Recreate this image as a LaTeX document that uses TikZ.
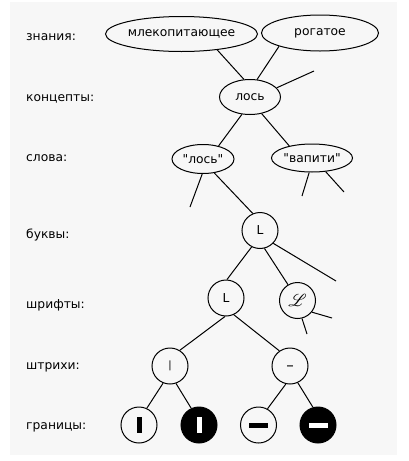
\documentclass[tikz,border=0pt]{standalone}
\usepackage{fontspec}
\setmainfont{DejaVu Sans}[Ligatures=TeXOff]
\usepackage{mathrsfs}
\usetikzlibrary{shapes.geometric}
\definecolor{bgcol}{HTML}{F7F7F7}
\tikzset{
  lvl/.style={anchor=base west, inner sep=0pt, font=\fontsize{12.3}{14}\selectfont},
  ell/.style={draw, ellipse, inner sep=0pt, line width=1pt, font=\fontsize{12.3}{14}\selectfont},
  circ/.style={draw, circle, inner sep=0pt, minimum size=36pt, line width=1pt, font=\fontsize{12.3}{14}\selectfont},
  fcirc/.style={circ, fill=black},
  edge/.style={line width=1pt},
}
\begin{document}
\begin{tikzpicture}[x=1pt,y=-1pt]
\useasboundingbox (0,0) rectangle (409,461);
\fill[bgcol] (10,2) rectangle (397,455);
% level labels
\node[lvl] (l1) at (26,40) {знания:};
\node[lvl] (l2) at (26,101) {концепты:};
\node[lvl] (l3) at (26,161) {слова:};
\node[lvl] (l4) at (26,238) {буквы:};
\node[lvl] (l5) at (26,308) {шрифты:};
\node[lvl] (l6) at (26,369) {штрихи:};
\node[lvl] (l7) at (26,429) {границы:};
% nodes
\node[ell, minimum width=117pt, minimum height=35pt] (mam) at (181.5,34) {млекопитающее};
\node[ell, minimum width=117pt, minimum height=36pt] (horn) at (320,33) {рогатое};
\node[ell, minimum width=61pt, minimum height=35pt] (moose) at (250,97) {лось};
\node[ell, minimum width=62pt, minimum height=29pt] (wmoose) at (203,159) {"лось"};
\node[ell, minimum width=63pt, minimum height=28pt] (wapiti) at (312,158) {"вапити"};
\node[circ] (L) at (260,230.5) {L};
\node[circ] (Lf) at (226,298) {L};
\node[circ, font=\fontsize{18}{20}\selectfont] (Ls) at (297.5,300.5) {$\mathscr{L}$};
\node[circ, font=\fontsize{10}{12}\selectfont] (vs) at (170,366) {|};
\node[circ, font=\fontsize{15}{17}\selectfont] (hs) at (290,366) {\raisebox{-4.5pt}[0pt][0pt]{–}};
\node[circ] (b1) at (139,425) {};
\node[fcirc] (b2) at (199,425) {};
\node[circ] (b3) at (258.5,425) {};
\node[fcirc] (b4) at (318,425) {};
\fill[black] ([xshift=-2.5pt,yshift=8pt]b1.center) rectangle ([xshift=2.5pt,yshift=-8pt]b1.center);
\fill[white] ([xshift=-2.5pt,yshift=8pt]b2.center) rectangle ([xshift=2.5pt,yshift=-8pt]b2.center);
\fill[black] ([xshift=-9.5pt,yshift=2.5pt]b3.center) rectangle ([xshift=9.5pt,yshift=-2.5pt]b3.center);
\fill[white] ([xshift=-9.5pt,yshift=2.5pt]b4.center) rectangle ([xshift=9.5pt,yshift=-2.5pt]b4.center);
% free ends
\coordinate (f1) at (314,71);
\coordinate (f2) at (190,207);
\coordinate (f3) at (302,196);
\coordinate (f4) at (344,192);
\coordinate (f5) at (336,281);
\coordinate (f6) at (332,318);
\coordinate (f7) at (307,334);
% connectors
\draw[edge] (mam.336.7) -- (moose.109.4);
\draw[edge] (horn.198) -- (moose.68);
\draw[edge] (moose.19.6) -- (f1);
\draw[edge] (moose.245) -- (wmoose.40);
\draw[edge] (moose.305) -- (wapiti.152.5);
\draw[edge] (wmoose.267) -- (f2);
\draw[edge] (wmoose.309) -- (L.113);
\draw[edge] (wapiti.259) -- (f3);
\draw[edge] (wapiti.315) -- (f4);
\draw[edge] (L.243) -- (Lf.87);
\draw[edge] (L.284) -- (Ls.121.5);
\draw[edge] (L.316) -- (f5);
\draw[edge] (Ls.321) -- (f6);
\draw[edge] (Ls.284) -- (f7);
\draw[edge] (Lf.267) -- (vs.58);
\draw[edge] (Lf.295) -- (hs.125);
\draw[edge] (vs.248) -- (b1.65);
\draw[edge] (vs.289) -- (b2.115);
\draw[edge] (hs.257) -- (b3.61);
\draw[edge] (hs.295) -- (b4.106);
\end{tikzpicture}
\end{document}
